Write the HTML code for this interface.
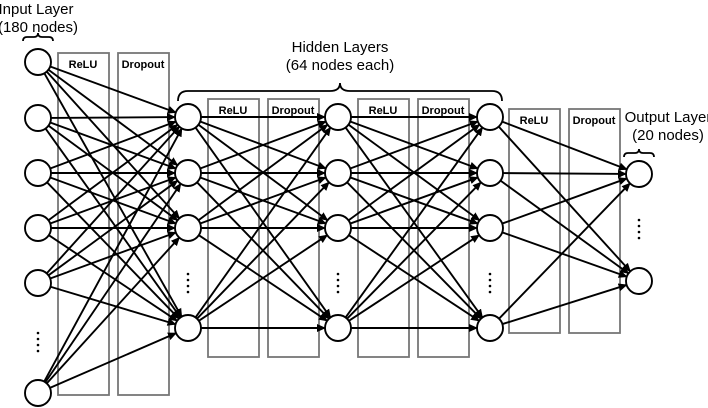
<!DOCTYPE html>
<html><head><meta charset="utf-8"><style>
html,body{margin:0;padding:0;background:#fff;}
svg{display:block;font-family:"Liberation Sans",sans-serif;}
</style></head><body>
<svg id="s" width="708" height="408" viewBox="0 0 708 408" xmlns="http://www.w3.org/2000/svg">
<defs><marker id="a" markerWidth="9" markerHeight="9" refX="8" refY="4.5" orient="auto" markerUnits="userSpaceOnUse"><path d="M0,0.5 L9,4.5 L0,8.5 z" fill="#000"/></marker></defs>
<g fill="none" stroke="#777" stroke-width="1.8">
<rect x="58" y="53" width="51" height="342"/><rect x="118" y="53" width="51" height="342"/>
<rect x="208" y="99" width="51" height="258"/><rect x="268" y="99" width="51" height="258"/>
<rect x="358" y="99" width="51" height="258"/><rect x="418" y="99" width="51" height="258"/>
<rect x="509" y="109" width="51" height="224"/><rect x="569" y="109" width="51" height="224"/>
</g>
<g font-size="11" font-weight="bold" text-anchor="middle" fill="#000">
<text x="83" y="68">ReLU</text><text x="143" y="68">Dropout</text>
<text x="233" y="114">ReLU</text><text x="293" y="114">Dropout</text>
<text x="383" y="114">ReLU</text><text x="443" y="114">Dropout</text>
<text x="534" y="124">ReLU</text><text x="594" y="124">Dropout</text>
</g>
<g id="lines" stroke="#000" stroke-width="1.9"></g>
<g id="nodes" fill="#fff" stroke="#000" stroke-width="1.9"></g>
<g font-size="15" fill="#000" text-anchor="middle">
<text x="36" y="14">Input Layer</text><text x="38" y="32">(180 nodes)</text>
<text x="340" y="52">Hidden Layers</text><text x="340" y="70">(64 nodes each)</text>
<text x="668" y="122">Output Layer</text><text x="668" y="140">(20 nodes)</text>
</g>
<g fill="none" stroke="#000" stroke-width="1.8">
<path d="M23,41 q0,-4 4,-4 h7 q4,0 4,-4 q0,4 4,4 h7 q4,0 4,4"/>
<path d="M178,101 q0,-10 10,-10 h142 q10,0 10,-8 q0,8 10,8 h142 q10,0 10,10"/>
<path d="M624,157 q0,-4 4,-4 h7 q4,0 4,-4 q0,4 4,4 h7 q4,0 4,4"/>
</g>
<g fill="#000">
<circle cx="38" cy="333" r="1.3"/><circle cx="38" cy="339" r="1.3"/><circle cx="38" cy="345" r="1.3"/><circle cx="38" cy="351" r="1.3"/>
<circle cx="188" cy="274" r="1.3"/><circle cx="188" cy="280" r="1.3"/><circle cx="188" cy="286" r="1.3"/><circle cx="188" cy="292" r="1.3"/>
<circle cx="338" cy="274" r="1.3"/><circle cx="338" cy="280" r="1.3"/><circle cx="338" cy="286" r="1.3"/><circle cx="338" cy="292" r="1.3"/>
<circle cx="490" cy="274" r="1.3"/><circle cx="490" cy="280" r="1.3"/><circle cx="490" cy="286" r="1.3"/><circle cx="490" cy="292" r="1.3"/>
<circle cx="639" cy="220" r="1.3"/><circle cx="639" cy="226" r="1.3"/><circle cx="639" cy="232" r="1.3"/><circle cx="639" cy="238" r="1.3"/>
</g>
</svg>
<script>
var NS="http://www.w3.org/2000/svg",R=13;
var L=[{x:38,ys:[62,118,173,228,283,393]},{x:188,ys:[117,173,228,328]},{x:338,ys:[117,173,228,328]},{x:490,ys:[117,173,228,328]},{x:639,ys:[174,281]}];
var lg=document.getElementById("lines"),ng=document.getElementById("nodes");
for(var i=0;i<L.length-1;i++){var A=L[i],B=L[i+1];
A.ys.forEach(function(y1){B.ys.forEach(function(y2){
var dx=B.x-A.x,dy=y2-y1,d=Math.sqrt(dx*dx+dy*dy),ux=dx/d,uy=dy/d;
var l=document.createElementNS(NS,"line");
l.setAttribute("x1",A.x+ux*R);l.setAttribute("y1",y1+uy*R);
l.setAttribute("x2",B.x-ux*R);l.setAttribute("y2",y2-uy*R);
l.setAttribute("marker-end","url(#a)");lg.appendChild(l);});});}
L.forEach(function(l){l.ys.forEach(function(y){var c=document.createElementNS(NS,"circle");
c.setAttribute("cx",l.x);c.setAttribute("cy",y);c.setAttribute("r",R);ng.appendChild(c);});});
</script>
</body></html>
